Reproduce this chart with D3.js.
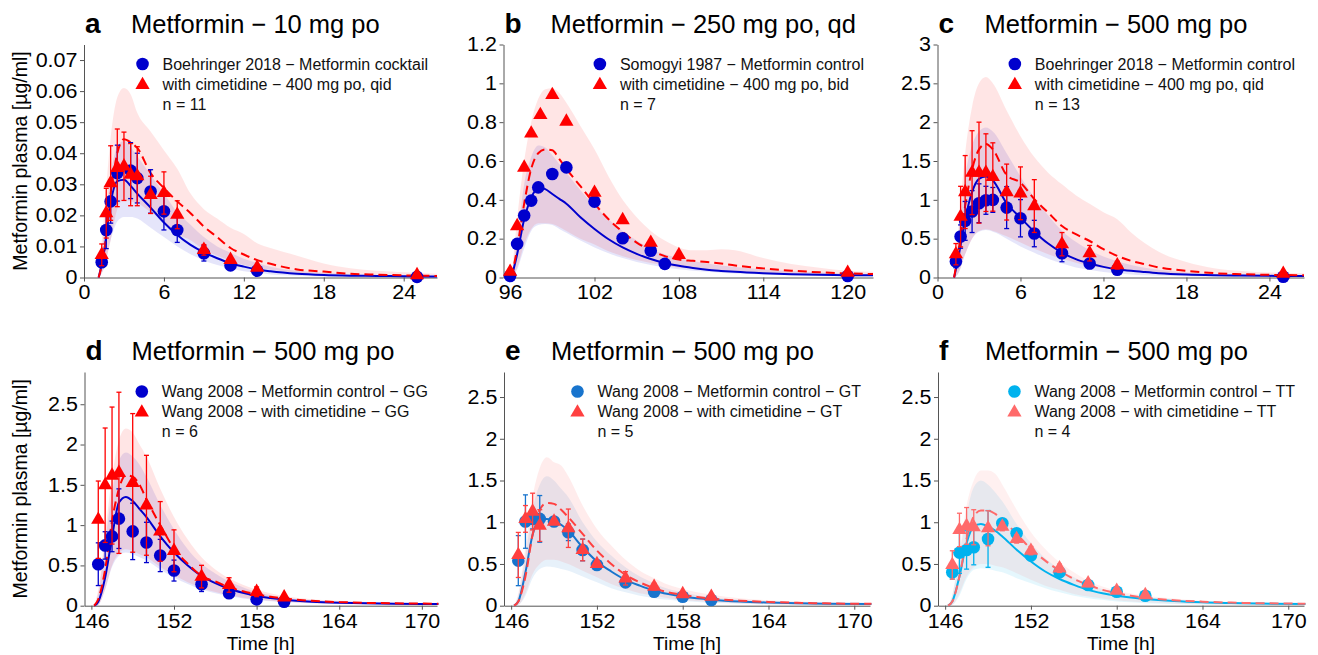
<!DOCTYPE html>
<html>
<head>
<meta charset="utf-8">
<script src="https://cdn.jsdelivr.net/npm/d3@7"></script>
<style>
body { margin: 0; background: #fff; }
svg { display: block; font-family: "Liberation Sans", Arial, Helvetica, sans-serif; }
</style>
</head>
<body>
<div id="chart"></div>
<script>

// ---- tick values ----
var xTicksDay = [0, 6, 12, 18, 24];
var xTicksSomogyi = [96, 102, 108, 114, 120];
var xTicksWang = [146, 152, 158, 164, 170];
var yTicksA = [0, 0.01, 0.02, 0.03, 0.04, 0.05, 0.06, 0.07];
var yTicksB = [0, 0.2, 0.4, 0.6, 0.8, 1, 1.2];
var yTicksC = [0, 0.5, 1, 1.5, 2, 2.5, 3];
var yTicksWang = [0, 0.5, 1, 1.5, 2, 2.5];

// ---- panel a: Boehringer 2018, 10 mg ----
var aCtrlT = [1.33, 1.67, 2, 2.5, 3.5, 4, 5, 6, 7, 9, 11, 13, 25];
var aCtrlObs = [0.0049, 0.0153, 0.0245, 0.0336, 0.0344, 0.0320, 0.0277, 0.0213, 0.0153, 0.0078, 0.0039, 0.0022, 0.0002];
var aCtrlSd = [0.001, 0.006, 0.007, 0.009, 0.009, 0.008, 0.007, 0.006, 0.004, 0.0025, 0.001, 0.0005, 0];
var aCimT = [1.33, 1.67, 2, 2.5, 3, 3.5, 4, 5, 6, 7, 9, 11, 13, 25];
var aCimObs = [0.0073, 0.0207, 0.0304, 0.0353, 0.0358, 0.0331, 0.0326, 0.0266, 0.0272, 0.0202, 0.0089, 0.0057, 0.0032, 0.0008];
var aCimSd = [0.0035, 0.008, 0.012, 0.0125, 0.011, 0.010, 0.0095, 0.006, 0.0068, 0.0045, 0.0017, 0.001, 0.0005, 0];
var aSimT = [1.1, 1.5, 2, 2.5, 3, 3.5, 4, 5, 6, 7, 8, 9, 10, 11, 12, 13, 14, 16, 18, 20, 22, 24, 26.5];
var aCtrlSim = [0, 0.008, 0.024, 0.031, 0.0315, 0.0295, 0.027, 0.0225, 0.0177, 0.0137, 0.0105, 0.0081, 0.0062, 0.0046, 0.0035, 0.0026, 0.002, 0.0012, 0.0008, 0.0006, 0.0005, 0.0004, 0.0003];
var aCimSim = [0, 0.0078, 0.027, 0.040, 0.0445, 0.0435, 0.0417, 0.0336, 0.0288, 0.0245, 0.0207, 0.0164, 0.013, 0.0095, 0.0074, 0.0056, 0.0044, 0.0026, 0.0019, 0.0012, 0.0009, 0.0007, 0.0005];
var aCtrlLo = [0, 0.003, 0.012, 0.018, 0.0195, 0.0195, 0.019, 0.016, 0.013, 0.010, 0.0075, 0.0055, 0.004, 0.003, 0.002, 0.0015, 0.001, 0.0006, 0.0003, 0.0002, 0.0001, 0.0001, 0];
var aCtrlHi = [0, 0.014, 0.033, 0.042, 0.044, 0.042, 0.039, 0.033, 0.027, 0.021, 0.017, 0.013, 0.010, 0.008, 0.006, 0.0047, 0.0035, 0.0022, 0.0015, 0.001, 0.0007, 0.0005, 0.0004];
var aCimLo = [0, 0.003, 0.012, 0.022, 0.025, 0.0245, 0.024, 0.021, 0.018, 0.014, 0.012, 0.009, 0.007, 0.0055, 0.004, 0.003, 0.0025, 0.0015, 0.001, 0.0006, 0.0004, 0.0003, 0.0002];
var aCimHi = [0, 0.02, 0.045, 0.058, 0.061, 0.059, 0.053, 0.047, 0.041, 0.035, 0.027, 0.022, 0.019, 0.016, 0.014, 0.011, 0.0095, 0.007, 0.0045, 0.003, 0.0022, 0.0017, 0.0012];

// ---- panel b: Somogyi 1987, 250 mg qd ----
var bCtrlT = [96, 96.5, 97, 97.5, 98, 99, 100, 102, 104, 106, 107, 120];
var bCtrlObs = [0.008, 0.173, 0.319, 0.396, 0.464, 0.533, 0.567, 0.391, 0.202, 0.138, 0.07, 0.008];
var bCimT = [96, 96.5, 97, 97.5, 98.15, 99, 100, 102, 104, 106, 108, 120];
var bCimObs = [0.030, 0.265, 0.566, 0.742, 0.837, 0.940, 0.803, 0.437, 0.296, 0.179, 0.116, 0.025];
var bSimT = [96.1, 96.5, 97, 97.5, 98, 98.5, 99, 99.5, 100, 101, 102, 103, 104, 105, 106, 107, 108, 109, 110, 111, 112, 114, 116, 118, 120, 121.8];
var bCtrlSim = [0, 0.12, 0.3, 0.41, 0.462, 0.455, 0.43, 0.405, 0.38, 0.31, 0.25, 0.197, 0.155, 0.122, 0.095, 0.075, 0.06, 0.049, 0.04, 0.034, 0.029, 0.022, 0.017, 0.014, 0.012, 0.011];
var bCimSim = [0, 0.15, 0.38, 0.56, 0.64, 0.66, 0.655, 0.61, 0.56, 0.47, 0.38, 0.3, 0.235, 0.18, 0.14, 0.11, 0.092, 0.086, 0.08, 0.072, 0.062, 0.047, 0.035, 0.027, 0.021, 0.018];
var bCtrlLo = [0, 0.04, 0.15, 0.24, 0.27, 0.275, 0.27, 0.25, 0.23, 0.19, 0.155, 0.125, 0.1, 0.08, 0.065, 0.052, 0.042, 0.035, 0.029, 0.024, 0.02, 0.015, 0.011, 0.008, 0.007, 0.006];
var bCtrlHi = [0, 0.2, 0.48, 0.62, 0.68, 0.67, 0.63, 0.585, 0.54, 0.45, 0.37, 0.3, 0.24, 0.19, 0.15, 0.12, 0.1, 0.085, 0.072, 0.062, 0.054, 0.042, 0.033, 0.026, 0.021, 0.018];
var bCimLo = [0, 0.05, 0.17, 0.25, 0.28, 0.28, 0.275, 0.26, 0.24, 0.2, 0.17, 0.135, 0.11, 0.09, 0.075, 0.062, 0.05, 0.045, 0.04, 0.035, 0.03, 0.022, 0.016, 0.012, 0.009, 0.008];
var bCimHi = [0, 0.3, 0.6, 0.8, 0.92, 0.97, 0.975, 0.95, 0.9, 0.78, 0.66, 0.52, 0.4, 0.31, 0.24, 0.19, 0.155, 0.14, 0.14, 0.145, 0.14, 0.1, 0.07, 0.05, 0.035, 0.03];

// ---- panel c: Boehringer 2018, 500 mg ----
var cT = [1.33, 1.67, 2, 2.5, 3, 3.5, 4, 5, 6, 7, 9, 11, 13, 25];
var cCtrlObs = [0.206, 0.527, 0.729, 0.849, 0.956, 0.994, 0.999, 0.900, 0.763, 0.566, 0.313, 0.180, 0.099, 0.009];
var cCtrlSd = [0.08, 0.15, 0.25, 0.27, 0.25, 0.18, 0.16, 0.27, 0.24, 0.17, 0.11, 0.065, 0.035, 0.005];
var cCimObs = [0.300, 0.784, 1.10, 1.35, 1.35, 1.35, 1.294, 1.10, 1.084, 0.92, 0.429, 0.313, 0.159, 0.05];
var cCimSd = [0.137, 0.39, 0.47, 0.54, 0.65, 0.5, 0.44, 0.36, 0.34, 0.34, 0.15, 0.10, 0.05, 0.01];
var cSimT = [1.2, 1.5, 2, 2.5, 3, 3.5, 4, 5, 6, 7, 8, 9, 10, 11, 12, 13, 14, 15, 16, 18, 20, 22, 24, 26.5];
var cCtrlSim = [0, 0.25, 0.75, 1.1, 1.27, 1.3, 1.25, 0.956, 0.77, 0.59, 0.437, 0.32, 0.236, 0.18, 0.137, 0.107, 0.086, 0.07, 0.056, 0.039, 0.03, 0.025, 0.021, 0.02];
var cCimSim = [0, 0.32, 0.92, 1.39, 1.65, 1.72, 1.65, 1.32, 1.22, 1.01, 0.836, 0.664, 0.557, 0.47, 0.364, 0.279, 0.214, 0.171, 0.13, 0.086, 0.056, 0.043, 0.034, 0.03];
var cCtrlLo = [0, 0.05, 0.3, 0.5, 0.59, 0.61, 0.59, 0.5, 0.4, 0.32, 0.24, 0.18, 0.13, 0.1, 0.07, 0.052, 0.04, 0.03, 0.022, 0.015, 0.01, 0.007, 0.006, 0.005];
var cCtrlHi = [0, 0.5, 1.3, 1.7, 1.88, 1.93, 1.88, 1.6, 1.3, 1.03, 0.8, 0.6, 0.46, 0.35, 0.27, 0.21, 0.16, 0.125, 0.1, 0.065, 0.045, 0.035, 0.028, 0.025];
var cCimLo = [0, 0.05, 0.3, 0.5, 0.6, 0.62, 0.6, 0.53, 0.45, 0.37, 0.3, 0.24, 0.19, 0.15, 0.12, 0.095, 0.075, 0.058, 0.045, 0.03, 0.02, 0.014, 0.01, 0.008];
var cCimHi = [0, 0.6, 1.6, 2.2, 2.5, 2.58, 2.5, 2.15, 1.82, 1.55, 1.35, 1.2, 1.06, 0.95, 0.84, 0.75, 0.58, 0.44, 0.33, 0.2, 0.12, 0.085, 0.065, 0.055];

// ---- panels d-f: Wang 2008, 500 mg, by genotype ----
var wangT = [146.5, 147, 147.5, 148, 149, 150, 151, 152, 154, 156, 158, 160];
var wangSimT = [146.2, 146.5, 147, 147.5, 148, 148.5, 149, 149.5, 150, 151, 152, 153, 154, 155, 156, 157, 158, 159, 160, 162, 164, 166, 168, 171.2];

var dCtrlObs = [0.515, 0.748, 0.860, 1.080, 0.922, 0.785, 0.623, 0.436, 0.266, 0.154, 0.079, 0.05];
var dCtrlSd = [0.265, 0.17, 0.19, 0.37, 0.35, 0.25, 0.2, 0.13, 0.09, 0.04, 0.03, 0.02];
var dCimObs = [1.067, 1.495, 1.615, 1.649, 1.524, 1.246, 0.922, 0.681, 0.361, 0.257, 0.172, 0.104];
var dCimSd = [0.48, 0.71, 0.85, 1.0, 0.86, 0.62, 0.37, 0.26, 0.14, 0.09, 0.06, 0.02];
var dCtrlSim = [0, 0.05, 0.35, 0.85, 1.28, 1.35, 1.3, 1.2, 1.1, 0.86, 0.66, 0.5, 0.37, 0.28, 0.21, 0.16, 0.12, 0.095, 0.075, 0.05, 0.037, 0.03, 0.025, 0.02];
var dCimSim = [0, 0.08, 0.45, 1.05, 1.45, 1.62, 1.6, 1.5, 1.32, 1.0, 0.71, 0.52, 0.37, 0.3, 0.23, 0.18, 0.14, 0.11, 0.09, 0.06, 0.045, 0.035, 0.03, 0.025];
var dCtrlLo = [0, 0.01, 0.2, 0.48, 0.62, 0.66, 0.64, 0.6, 0.56, 0.45, 0.35, 0.27, 0.2, 0.155, 0.12, 0.09, 0.07, 0.055, 0.045, 0.03, 0.02, 0.015, 0.012, 0.01];
var dCtrlHi = [0, 0.15, 0.8, 1.4, 1.8, 1.9, 1.85, 1.75, 1.6, 1.25, 0.95, 0.7, 0.52, 0.4, 0.3, 0.23, 0.17, 0.13, 0.1, 0.07, 0.05, 0.038, 0.03, 0.025];
var dCimLo = [0, 0.01, 0.2, 0.5, 0.65, 0.7, 0.68, 0.64, 0.6, 0.48, 0.38, 0.29, 0.22, 0.17, 0.13, 0.1, 0.08, 0.062, 0.05, 0.035, 0.025, 0.019, 0.015, 0.012];
var dCimHi = [0, 0.2, 0.9, 1.6, 2.05, 2.2, 2.15, 2.0, 1.85, 1.45, 1.1, 0.82, 0.6, 0.45, 0.34, 0.26, 0.2, 0.155, 0.12, 0.08, 0.06, 0.045, 0.036, 0.03];

var eCtrlObs = [0.54, 1.008, 1.04, 1.04, 1.008, 0.88, 0.668, 0.488, 0.28, 0.168, 0.108, 0.068];
var eCtrlSd = [0.3, 0.32, 0.12, 0.28, 0.05, 0.1, 0.13, 0.05, 0.05, 0.03, 0.02, 0.015];
var eCimObs = [0.608, 1.04, 1.128, 0.96, 1.008, 0.928, 0.668, 0.5, 0.328, 0.228, 0.14, 0.108];
var eCimSd = [0.27, 0.16, 0.22, 0.19, 0.03, 0.23, 0.13, 0.03, 0.08, 0.04, 0.02, 0.02];
var eCtrlSim = [0, 0.05, 0.4, 0.85, 1.03, 1.04, 1.02, 0.97, 0.9, 0.7, 0.53, 0.41, 0.31, 0.24, 0.18, 0.14, 0.11, 0.088, 0.072, 0.05, 0.038, 0.03, 0.024, 0.019];
var eCimSim = [0, 0.05, 0.35, 0.85, 1.15, 1.23, 1.22, 1.15, 1.06, 0.86, 0.66, 0.5, 0.37, 0.28, 0.21, 0.16, 0.13, 0.105, 0.085, 0.06, 0.045, 0.035, 0.028, 0.022];
var eCtrlLo = [0, 0.01, 0.12, 0.33, 0.44, 0.47, 0.46, 0.44, 0.42, 0.35, 0.28, 0.21, 0.16, 0.12, 0.09, 0.07, 0.055, 0.044, 0.035, 0.022, 0.015, 0.011, 0.009, 0.007];
var eCtrlHi = [0, 0.12, 0.6, 1.15, 1.45, 1.55, 1.5, 1.4, 1.3, 1.0, 0.77, 0.6, 0.46, 0.35, 0.27, 0.2, 0.16, 0.125, 0.1, 0.07, 0.05, 0.038, 0.03, 0.025];
var eCimLo = [0, 0.01, 0.15, 0.38, 0.5, 0.55, 0.55, 0.53, 0.5, 0.42, 0.34, 0.26, 0.2, 0.15, 0.12, 0.09, 0.07, 0.056, 0.045, 0.03, 0.02, 0.015, 0.012, 0.01];
var eCimHi = [0, 0.15, 0.7, 1.3, 1.65, 1.78, 1.72, 1.68, 1.55, 1.2, 0.92, 0.72, 0.55, 0.42, 0.33, 0.25, 0.2, 0.16, 0.13, 0.09, 0.065, 0.05, 0.038, 0.03];

var fCtrlObs = [0.40, 0.636, 0.668, 0.70, 0.80, 0.988, 0.868, 0.60, 0.40, 0.248, 0.168, 0.12];
var fCtrlSd = [0.08, 0.25, 0.23, 0.21, 0.34, 0.05, 0.05, 0.05, 0.04, 0.03, 0.02, 0.02];
var fCimObs = [0.488, 0.908, 0.956, 0.94, 0.928, 0.948, 0.80, 0.66, 0.448, 0.268, 0.18, 0.128];
var fCimSd = [0.17, 0.2, 0.22, 0.21, 0.21, 0.05, 0.05, 0.05, 0.05, 0.04, 0.03, 0.02];
var fCtrlSim = [0, 0.05, 0.35, 0.75, 0.95, 0.98, 0.95, 0.9, 0.83, 0.67, 0.53, 0.41, 0.32, 0.25, 0.19, 0.15, 0.12, 0.098, 0.08, 0.055, 0.04, 0.032, 0.026, 0.02];
var fCimSim = [0, 0.05, 0.35, 0.8, 1.07, 1.14, 1.14, 1.1, 1.03, 0.86, 0.68, 0.54, 0.42, 0.32, 0.25, 0.19, 0.15, 0.12, 0.095, 0.065, 0.048, 0.037, 0.03, 0.024];
var fCtrlLo = [0, 0.01, 0.12, 0.32, 0.43, 0.45, 0.44, 0.42, 0.4, 0.33, 0.27, 0.21, 0.16, 0.12, 0.09, 0.07, 0.05, 0.04, 0.03, 0.02, 0.013, 0.01, 0.008, 0.006];
var fCtrlHi = [0, 0.12, 0.6, 1.1, 1.42, 1.5, 1.45, 1.36, 1.25, 0.98, 0.75, 0.57, 0.44, 0.34, 0.26, 0.2, 0.155, 0.125, 0.1, 0.07, 0.05, 0.038, 0.03, 0.025];
var fCimLo = [0, 0.01, 0.15, 0.35, 0.46, 0.5, 0.5, 0.48, 0.46, 0.39, 0.31, 0.24, 0.19, 0.14, 0.11, 0.085, 0.065, 0.05, 0.04, 0.026, 0.018, 0.013, 0.01, 0.008];
var fCimHi = [0, 0.13, 0.65, 1.2, 1.5, 1.62, 1.62, 1.58, 1.45, 1.15, 0.88, 0.68, 0.52, 0.4, 0.3, 0.23, 0.18, 0.145, 0.12, 0.085, 0.06, 0.045, 0.036, 0.03];

// ---- panel set-up (layout + which arrays go where) ----
var TOP = {top: 44.5, bottom: 277.5, titleY: 32.5};
var BOT = {top: 372, bottom: 605.7, titleY: 359.5};

var panels = [
  {letter: "a", title: "Metformin \u2212 10 mg po", row: TOP, left: 84, right: 437, xDom: [0, 26.5], yDom: [0, 0.075],
   xTicks: xTicksDay, yTicks: yTicksA, ctrlColor: "#0000CD", cimColor: "#FF0000",
   ctrlT: aCtrlT, ctrlObs: aCtrlObs, ctrlSd: aCtrlSd, cimT: aCimT, cimObs: aCimObs, cimSd: aCimSd,
   simT: aSimT, ctrlSim: aCtrlSim, cimSim: aCimSim, ctrlLo: aCtrlLo, ctrlHi: aCtrlHi, cimLo: aCimLo, cimHi: aCimHi,
   legend: ["Boehringer 2018 \u2212 Metformin cocktail", "with cimetidine \u2212 400 mg po, qid", "n = 11"], yTitle: true},
  {letter: "b", title: "Metformin \u2212 250 mg po, qd", row: TOP, left: 503.5, right: 873, xDom: [95.53, 121.8], yDom: [0, 1.2],
   xTicks: xTicksSomogyi, yTicks: yTicksB, ctrlColor: "#0000CD", cimColor: "#FF0000",
   ctrlT: bCtrlT, ctrlObs: bCtrlObs, ctrlSd: null, cimT: bCimT, cimObs: bCimObs, cimSd: null,
   simT: bSimT, ctrlSim: bCtrlSim, cimSim: bCimSim, ctrlLo: bCtrlLo, ctrlHi: bCtrlHi, cimLo: bCimLo, cimHi: bCimHi,
   legend: ["Somogyi 1987 \u2212 Metformin control", "with cimetidine \u2212 400 mg po, bid", "n = 7"]},
  {letter: "c", title: "Metformin \u2212 500 mg po", row: TOP, left: 937.5, right: 1304, xDom: [0, 26.5], yDom: [0, 3],
   xTicks: xTicksDay, yTicks: yTicksC, ctrlColor: "#0000CD", cimColor: "#FF0000",
   ctrlT: cT, ctrlObs: cCtrlObs, ctrlSd: cCtrlSd, cimT: cT, cimObs: cCimObs, cimSd: cCimSd,
   simT: cSimT, ctrlSim: cCtrlSim, cimSim: cCimSim, ctrlLo: cCtrlLo, ctrlHi: cCtrlHi, cimLo: cCimLo, cimHi: cCimHi,
   legend: ["Boehringer 2018 \u2212 Metformin control", "with cimetidine \u2212 400 mg po, qid", "n = 13"]},
  {letter: "d", title: "Metformin \u2212 500 mg po", row: BOT, left: 84.5, right: 437, xDom: [145.5, 171.1], yDom: [0, 2.9],
   xTicks: xTicksWang, yTicks: yTicksWang, ctrlColor: "#0000CD", cimColor: "#FF0000",
   ctrlT: wangT, ctrlObs: dCtrlObs, ctrlSd: dCtrlSd, cimT: wangT, cimObs: dCimObs, cimSd: dCimSd,
   simT: wangSimT, ctrlSim: dCtrlSim, cimSim: dCimSim, ctrlLo: dCtrlLo, ctrlHi: dCtrlHi, cimLo: dCimLo, cimHi: dCimHi,
   legend: ["Wang 2008 \u2212 Metformin control \u2212 GG", "Wang 2008 \u2212 with cimetidine \u2212 GG", "n = 6"], yTitle: true, xTitle: true},
  {letter: "e", title: "Metformin \u2212 500 mg po", row: BOT, left: 504, right: 870, xDom: [145.5, 171.1], yDom: [0, 2.8],
   xTicks: xTicksWang, yTicks: yTicksWang, ctrlColor: "#1874CD", cimColor: "#FF4040",
   ctrlT: wangT, ctrlObs: eCtrlObs, ctrlSd: eCtrlSd, cimT: wangT, cimObs: eCimObs, cimSd: eCimSd,
   simT: wangSimT, ctrlSim: eCtrlSim, cimSim: eCimSim, ctrlLo: eCtrlLo, ctrlHi: eCtrlHi, cimLo: eCimLo, cimHi: eCimHi,
   legend: ["Wang 2008 \u2212 Metformin control \u2212 GT", "Wang 2008 \u2212 with cimetidine \u2212 GT", "n = 5"], xTitle: true},
  {letter: "f", title: "Metformin \u2212 500 mg po", row: BOT, left: 938, right: 1304, xDom: [145.5, 171.1], yDom: [0, 2.8],
   xTicks: xTicksWang, yTicks: yTicksWang, ctrlColor: "#00B2EE", cimColor: "#FF6A6A",
   ctrlT: wangT, ctrlObs: fCtrlObs, ctrlSd: fCtrlSd, cimT: wangT, cimObs: fCimObs, cimSd: fCimSd,
   simT: wangSimT, ctrlSim: fCtrlSim, cimSim: fCimSim, ctrlLo: fCtrlLo, ctrlHi: fCtrlHi, cimLo: fCimLo, cimHi: fCimHi,
   legend: ["Wang 2008 \u2212 Metformin control \u2212 TT", "Wang 2008 \u2212 with cimetidine \u2212 TT", "n = 4"], xTitle: true}
];

var w = 1318, h = 655;
var axisColor = "#555";

var svg = d3.select("#chart").append("svg")
  .attr("width", w)
  .attr("height", h);

var triangle = d3.symbol().type(d3.symbolTriangle).size(88);
var fmt = function(d) { return String(+d.toFixed(3)); };

function drawPanel(p) {
  var top = p.row.top, bottom = p.row.bottom;
  var x = d3.scaleLinear().domain(p.xDom).range([p.left, p.right]);
  var y = d3.scaleLinear().domain(p.yDom).range([bottom, top]);
  var g = svg.append("g");

  // titles
  g.append("text")
    .attr("x", p.left + 1).attr("y", p.row.titleY)
    .attr("font-size", 28).attr("font-weight", "bold")
    .text(p.letter);
  g.append("text")
    .attr("x", p.left + 47).attr("y", p.row.titleY)
    .attr("font-size", 25.5)
    .text(p.title);

  // axes
  var xa = g.append("g")
    .attr("transform", "translate(0," + bottom + ")")
    .call(d3.axisBottom(x).tickValues(p.xTicks).tickFormat(fmt).tickSize(4).tickPadding(4).tickSizeOuter(0));
  var ya = g.append("g")
    .attr("transform", "translate(" + p.left + ",0)")
    .call(d3.axisLeft(y).tickValues(p.yTicks).tickFormat(fmt).tickSize(4).tickPadding(2).tickSizeOuter(0));
  [xa, ya].forEach(function(a) {
    a.select(".domain").attr("stroke", axisColor);
    a.selectAll(".tick line").attr("stroke", axisColor);
    // tick labels in the reference are a little wider than plain Arial
    a.selectAll(".tick text").attr("font-size", 19.5).attr("fill", "#000")
      .attr("font-family", "'Liberation Sans', Arial, sans-serif")
      .attr("transform", "scale(1.1,1)");
  });

  if (p.yTitle) {
    g.append("text")
      .attr("transform", "translate(27," + ((top + bottom) / 2) + ") rotate(-90)")
      .attr("text-anchor", "middle")
      .attr("font-size", 19.5)
      .text("Metformin plasma [\u00b5g/ml]");
  }
  if (p.xTitle) {
    g.append("text")
      .attr("x", (p.left + p.right) / 2).attr("y", 649.5)
      .attr("text-anchor", "middle")
      .attr("font-size", 19)
      .text("Time [h]");
  }

  // simulation bands
  function band(lo, hi, color) {
    var area = d3.area()
      .x(function(d, i) { return x(p.simT[i]); })
      .y0(function(d, i) { return y(lo[i]); })
      .y1(function(d, i) { return y(hi[i]); })
      .curve(d3.curveMonotoneX);
    g.append("path")
      .attr("d", area(p.simT))
      .attr("fill", color)
      .attr("fill-opacity", 0.1);
  }
  band(p.ctrlLo, p.ctrlHi, p.ctrlColor);
  band(p.cimLo, p.cimHi, p.cimColor);

  // simulation means
  var line = d3.line()
    .x(function(d, i) { return x(p.simT[i]); })
    .y(function(d) { return y(d); })
    .curve(d3.curveMonotoneX);
  g.append("path").attr("d", line(p.ctrlSim))
    .attr("fill", "none").attr("stroke", p.ctrlColor).attr("stroke-width", 2);
  g.append("path").attr("d", line(p.cimSim))
    .attr("fill", "none").attr("stroke", p.cimColor).attr("stroke-width", 2)
    .attr("stroke-dasharray", "9,5");

  // error bars
  function errBars(ts, vals, sds, color) {
    if (!sds) return;
    ts.forEach(function(t, i) {
      if (!sds[i]) return;
      var cx = x(t), y0 = y(Math.max(0, vals[i] - sds[i])), y1 = y(vals[i] + sds[i]);
      g.append("line").attr("x1", cx).attr("x2", cx).attr("y1", y0).attr("y2", y1)
        .attr("stroke", color).attr("stroke-width", 1.3);
      [y0, y1].forEach(function(yy) {
        g.append("line").attr("x1", cx - 2.5).attr("x2", cx + 2.5).attr("y1", yy).attr("y2", yy)
          .attr("stroke", color).attr("stroke-width", 1.3);
      });
    });
  }
  errBars(p.ctrlT, p.ctrlObs, p.ctrlSd, p.ctrlColor);

  g.selectAll(null).data(p.ctrlObs).enter().append("circle")
    .attr("cx", function(d, i) { return x(p.ctrlT[i]); })
    .attr("cy", function(d) { return y(d); })
    .attr("r", 6.3)
    .attr("fill", p.ctrlColor);

  errBars(p.cimT, p.cimObs, p.cimSd, p.cimColor);

  g.selectAll(null).data(p.cimObs).enter().append("path")
    .attr("d", triangle)
    .attr("transform", function(d, i) { return "translate(" + x(p.cimT[i]) + "," + y(d) + ")"; })
    .attr("fill", p.cimColor);

  // legend, right-aligned in the panel
  var lg = g.append("g");
  var texts = p.legend.map(function(s, i) {
    return lg.append("text")
      .attr("y", top + 19.5 + i * 20 + 5.5)
      .attr("font-size", 16)
      .attr("fill", "#111")
      .text(s);
  });
  var maxW = d3.max(texts, function(t) { return t.node().getComputedTextLength(); });
  var tx = p.right - 9 - maxW;
  texts.forEach(function(t) { t.attr("x", tx); });
  lg.append("circle").attr("cx", tx - 20).attr("cy", top + 19.5).attr("r", 6.3).attr("fill", p.ctrlColor);
  lg.append("path").attr("d", triangle)
    .attr("transform", "translate(" + (tx - 20) + "," + (top + 40.5) + ")")
    .attr("fill", p.cimColor);
}

panels.forEach(drawPanel);

</script>
</body>
</html>
